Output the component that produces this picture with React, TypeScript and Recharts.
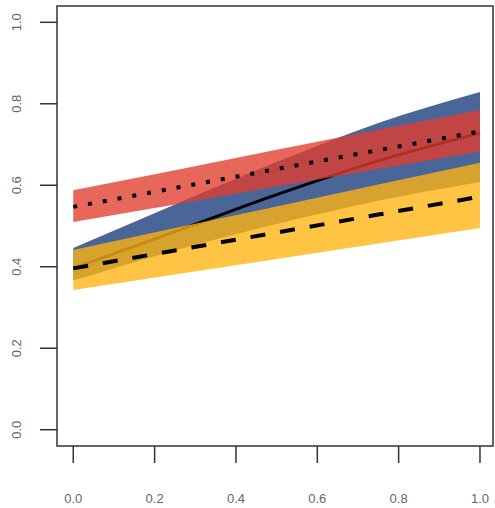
import { Area, ComposedChart, Line, ReferenceArea, XAxis, YAxis } from "recharts";

const xs = [0, 0.25, 0.5, 0.75, 1];

const blueLow = [0.366, 0.44, 0.505, 0.562, 0.608];
const blueHigh = [0.446, 0.553, 0.657, 0.753, 0.829];
const blueMean = [0.396, 0.486, 0.577, 0.66, 0.728];

const redLow = [0.51, 0.553, 0.597, 0.64, 0.683];
const redHigh = [0.588, 0.637, 0.687, 0.736, 0.785];
const redMean = [0.547, 0.593, 0.64, 0.686, 0.732];

const yellowLow = [0.343, 0.381, 0.419, 0.457, 0.495];
const yellowHigh = [0.441, 0.495, 0.548, 0.602, 0.655];
const yellowMean = [0.396, 0.44, 0.484, 0.528, 0.572];

const ticks = [0, 0.2, 0.4, 0.6, 0.8, 1];

const data = xs.map((x, i) => ({
  x,
  blue: [blueLow[i], blueHigh[i]],
  blueMean: blueMean[i],
  red: [redLow[i], redHigh[i]],
  redMean: redMean[i],
  yellow: [yellowLow[i], yellowHigh[i]],
  yellowMean: yellowMean[i],
}));

const font = "'Liberation Sans', Arial, sans-serif";
const axisColor = "#333";
const labelColor = "#666";

function YTick(props: any) {
  const { y, payload } = props;
  return (
    <text
      x={21}
      y={y}
      transform={`rotate(-90, 21, ${y})`}
      textAnchor="middle"
      fontSize={13}
      fontFamily={font}
      fill={labelColor}
    >
      {payload.value.toFixed(1)}
    </text>
  );
}

function XTick(props: any) {
  const { x, payload } = props;
  return (
    <text
      x={x}
      y={503}
      textAnchor="middle"
      fontSize={13}
      fontFamily={font}
      fill={labelColor}
    >
      {payload.value.toFixed(1)}
    </text>
  );
}

export default function App() {
  return (
    <div style={{ position: "absolute", left: 0, top: 0, background: "#fff" }}>
      <ComposedChart
        width={495}
        height={508}
        data={data}
        margin={{ top: 6, right: 2, bottom: 0, left: 0 }}
      >
        <XAxis
          type="number"
          dataKey="x"
          domain={[-0.04, 1.032]}
          ticks={ticks}
          allowDataOverflow
          axisLine={false}
          tickSize={17}
          tickLine={{ stroke: axisColor, strokeWidth: 1.5 }}
          tick={<XTick />}
          height={62}
        />
        <YAxis
          type="number"
          domain={[-0.04, 1.04]}
          ticks={ticks}
          allowDataOverflow
          axisLine={false}
          tickSize={17}
          tickLine={{ stroke: axisColor, strokeWidth: 1.5 }}
          tick={<YTick />}
          width={57}
        />
        <Area
          type="monotone"
          dataKey="blue"
          stroke="none"
          fill="#4a6598"
          fillOpacity={1}
          isAnimationActive={false}
          activeDot={false}
        />
        {/* solid mean line drawn as an unfilled area so the red/yellow bands cover it */}
        <Area
          type="monotone"
          dataKey="blueMean"
          stroke="#000"
          strokeWidth={3}
          fill="none"
          isAnimationActive={false}
          activeDot={false}
        />
        <Area
          type="linear"
          dataKey="red"
          stroke="none"
          fill="rgb(225,60,45)"
          fillOpacity={0.78}
          isAnimationActive={false}
          activeDot={false}
        />
        <Area
          type="linear"
          dataKey="yellow"
          stroke="none"
          fill="rgb(255,180,15)"
          fillOpacity={0.78}
          isAnimationActive={false}
          activeDot={false}
        />
        <Line
          type="linear"
          dataKey="redMean"
          stroke="#000"
          strokeWidth={4}
          strokeDasharray="4 11"
          dot={false}
          activeDot={false}
          isAnimationActive={false}
        />
        <Line
          type="linear"
          dataKey="yellowMean"
          stroke="#000"
          strokeWidth={4}
          strokeDasharray="15 15"
          dot={false}
          activeDot={false}
          isAnimationActive={false}
        />
        <ReferenceArea
          x1={-0.04}
          x2={1.032}
          y1={-0.04}
          y2={1.04}
          fill="none"
          stroke={axisColor}
          strokeWidth={1.5}
          ifOverflow="visible"
        />
      </ComposedChart>
    </div>
  );
}
